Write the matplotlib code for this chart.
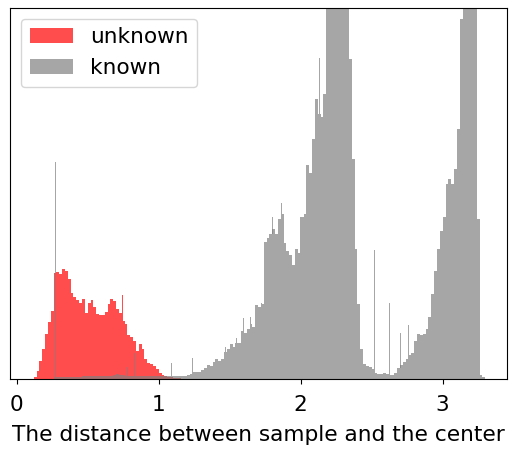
import numpy as np
import matplotlib
matplotlib.use("Agg")
import matplotlib.pyplot as plt

# bin width shared by both histograms
bin_width = 0.02

# "unknown" histogram: counts for bins starting at 0.12
unknown_start = 0.12
unknown_counts = [2, 8, 18, 30, 45, 57, 68, 106, 107, 105,
                  110, 108, 100, 86, 82, 79, 76, 80, 66, 76,
                  79, 72, 65, 64, 64, 67, 75, 80, 78, 70,
                  66, 58, 55, 44, 42, 38, 28, 35, 30, 20,
                  16, 15, 13, 10, 6, 4, 3, 2, 2, 1,
                  1, 1, 0.5]
unknown_spike_x = [0.745]
unknown_spike_h = [84]

# "known" histogram: counts for bins starting at 0.20
known_start = 0.20
known_counts = [0, 0, 0, 2, 2, 2, 2, 2, 2, 2,          # 0.20 - 0.40
                2, 2, 2, 3, 3, 3, 3, 3, 3, 3,          # 0.40 - 0.60
                3, 3, 3, 3, 4, 5, 4, 4, 3, 3,          # 0.60 - 0.80
                3, 3, 3, 3, 3, 3, 3, 3, 3, 3,          # 0.80 - 1.00
                3, 3, 3, 3, 3,                         # 1.00 - 1.10
                3, 3, 3, 3, 3, 4, 5, 7, 7, 7,          # 1.10 - 1.30
                9, 11, 14, 13, 17, 20, 18, 20, 27, 30,  # 1.30 - 1.50
                35, 32, 36, 36, 48, 46, 50, 55, 52, 74,  # 1.50 - 1.70
                72, 75, 137, 141, 145, 150, 145, 160, 165, 136,  # 1.70 - 1.90
                128, 124, 114, 130, 126, 162, 165, 214, 206, 240,  # 1.90 - 2.10
                280, 265, 262, 285, 380, 420, 450, 450, 430, 410,  # 2.10 - 2.30
                400, 390, 320, 220, 130, 75, 30, 15, 13, 12,  # 2.30 - 2.50
                10, 6, 5, 5, 6, 5, 4, 4, 6, 11,  # 2.50 - 2.70
                14, 17, 20, 24, 26, 38, 45, 44, 45, 50,  # 2.70 - 2.90
                62, 85, 108, 130, 148, 162, 195, 200, 195, 210,  # 2.90 - 3.10
                250, 360, 450, 450, 450, 450, 420, 160, 4, 2]  # 3.10 - 3.30
known_spike_x = [0.27, 0.78, 0.83, 1.09, 1.24, 1.47, 1.55, 1.60, 1.65, 1.725,
                 1.80, 1.865, 2.00, 2.135, 2.52, 2.625, 2.70, 2.76]
known_spike_h = [217, 12, 26, 16, 21, 32, 41, 61, 62, 76,
                 162, 176, 162, 321, 129, 76, 46, 54]


def draw(ax, start, counts, spike_x, spike_h, color, label):
    edges = start + bin_width * np.arange(len(counts) + 1)
    counts = np.asarray(counts, dtype=float)
    ax.hist(edges[:-1], bins=edges, weights=counts, color=color,
            alpha=0.7, label=label)
    # narrow single-bin spikes sitting on top of the coarse bins
    idx = np.clip(np.searchsorted(edges, spike_x) - 1, 0, len(counts) - 1)
    base = counts[idx]
    ax.bar(spike_x, np.asarray(spike_h) - base, bottom=base, width=0.007,
           color=color, alpha=0.7, linewidth=0)


fig = plt.figure(figsize=(5.09, 4.49), dpi=100)
ax = fig.add_axes([10 / 509, 1 - 379 / 449, 497 / 509, 371 / 449])

draw(ax, unknown_start, unknown_counts, unknown_spike_x, unknown_spike_h,
     "red", "unknown")
draw(ax, known_start, known_counts, known_spike_x, known_spike_h,
     "grey", "known")

ax.set_xlim(-0.047, 3.453)
ax.set_ylim(0, 371)
ax.set_yticks([])
ax.set_xticks([0, 1, 2, 3])
ax.tick_params(axis="x", labelsize=15.6, pad=8)
ax.set_xlabel("The distance between sample and the center", fontsize=15.6,
              labelpad=7)
ax.legend(loc="upper left", fontsize=15.6)

fig.savefig("out.png", dpi=100)
